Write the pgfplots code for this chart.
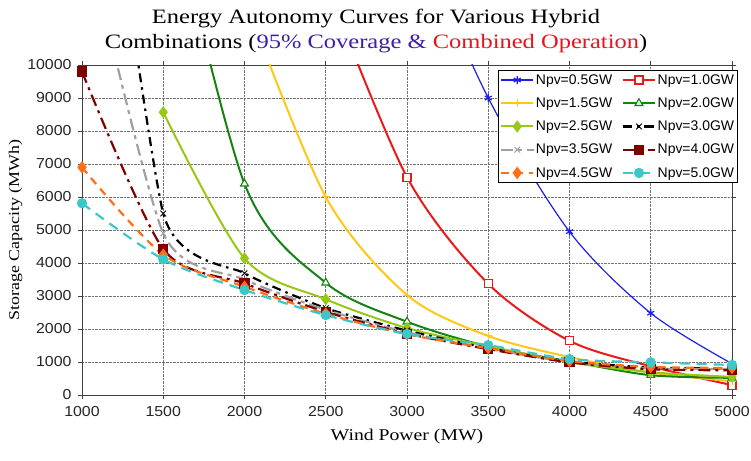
\documentclass[border=0pt]{standalone}
\usepackage{pgfplots}
\pgfplotsset{compat=1.18}
\usepackage{fontspec}
\setmainfont{Liberation Serif}
\newfontfamily\titlefont{Liberation Serif}[FakeStretch=1.2]
\newfontfamily\arial{Liberation Sans}
\newfontfamily\arialw{Liberation Sans}[FakeStretch=1.1]

\definecolor{cBlue}{RGB}{30,30,230}
\definecolor{cRed}{RGB}{235,25,25}
\definecolor{cGold}{RGB}{255,200,20}
\definecolor{cGreen}{RGB}{20,130,20}
\definecolor{cLime}{RGB}{150,200,20}
\definecolor{cGray}{RGB}{160,160,160}
\definecolor{cDarkRed}{RGB}{128,0,0}
\definecolor{cOrange}{RGB}{255,110,20}
\definecolor{cCyan}{RGB}{60,200,200}
\definecolor{tBlue}{RGB}{60,30,170}
\definecolor{tRed}{RGB}{230,20,30}

\begin{document}
\begin{tikzpicture}[x=1bp,y=1bp]
\path[use as bounding box] (0,0) rectangle (751,461);
\node[font=\titlefont\fontsize{20.5}{24.5}\selectfont, align=center] at (376,430)
  {Energy Autonomy Curves for Various Hybrid\\
   Combinations ({\color{tBlue}95\% Coverage \&} {\color{tRed}Combined Operation})};
\begin{axis}[
  at={(82bp,66bp)}, anchor=south west,
  scale only axis, width=650bp, height=330bp,
  xmin=1000, xmax=5000, ymin=0, ymax=10000,
  xtick={1000,1500,...,5000}, ytick={0,1000,...,10000},
  scaled ticks=false,
  /pgf/number format/assume math mode=true,
  /pgf/number format/set thousands separator={},
  ticklabel style={font=\arialw\fontsize{14.5}{15}\selectfont, text=black!85},
  xticklabel style={yshift=-4bp},
  yticklabel style={xshift=-3bp},
  grid=major, grid style={densely dotted, black!55, line width=0.6bp},
  axis line style={black!75, line width=0.9bp},
  tick align=outside, major tick length=4bp,
  tick style={black!75, line width=0.8bp},
  xlabel={\titlefont\fontsize{16.5}{18}\selectfont Wind Power (MW)},
  ylabel={\titlefont\fontsize{15}{18}\selectfont Storage Capacity (MWh)},
  xlabel style={yshift=-6bp},
  ylabel style={yshift=-2bp},
  legend columns=2,
  legend cell align=left,
  legend style={at={(1.0092,0.985)}, anchor=north east,
    font=\arial\fontsize{14}{14.5}\selectfont,
    draw=black, line width=0.7bp, fill=white,
    inner xsep=2bp, inner ysep=2.5bp,
    row sep=8.8bp,
    nodes={inner sep=1.6bp},
    /tikz/every even column/.append style={column sep=8bp}},
  legend image code/.code={\draw[mark repeat=2,mark phase=2]
    plot coordinates {(0bp,0bp)(16bp,0bp)(32bp,0bp)};},
  every axis plot/.append style={smooth},
]
% Npv = 0.5 GW
\addplot[cBlue, line width=1.2bp, mark=asterisk, mark size=4bp, mark options={solid, draw=cBlue}]
  coordinates {(3000,14500)(3500,9000)(4000,4950)(4500,2480)(5000,950)};
\addlegendentry{Npv=0.5GW}
% Npv = 1.0 GW
\addplot[cRed, line width=2bp, mark=square*, mark size=4bp, mark options={solid, draw=cRed, fill=white, line width=1.1bp}]
  coordinates {(2500,12500)(3000,6600)(3500,3370)(4000,1640)(4500,870)(5000,300)};
\addlegendentry{Npv=1.0GW}
% Npv = 1.5 GW
\addplot[cGold, line width=2bp, mark=+, mark size=4bp, mark options={solid, draw=cGold, line width=1bp}]
  coordinates {(2000,12000)(2500,6000)(3000,3030)(3500,1790)(4000,1150)(4500,680)(5000,420)};
\addlegendentry{Npv=1.5GW}
% Npv = 2.0 GW
\addplot[cGreen, line width=2bp, mark=triangle*, mark size=4.5bp, mark options={solid, draw=cGreen, fill=white, line width=1.1bp}]
  coordinates {(1500,16000)(2000,6400)(2500,3400)(3000,2220)(3500,1470)(4000,1020)(4500,600)(5000,520)};
\addlegendentry{Npv=2.0GW}
% Npv = 2.5 GW
\addplot[cLime, line width=2bp, mark=diamond*, mark size=4.5bp, mark options={solid, draw=cLime, fill=cLime}]
  coordinates {(1500,8570)(2000,4140)(2500,2900)(3000,2030)(3500,1480)(4000,1000)(4500,690)(5000,550)};
\addlegendentry{Npv=2.5GW}
% Npv = 3.0 GW
\addplot[black, line width=2.2bp, dash pattern=on 9bp off 5bp on 2.5bp off 5bp,
  mark=x, mark size=4bp, mark options={solid, line width=1bp}, tension=0.3]
  coordinates {(1000,22000)(1500,5500)(2000,3690)(2500,2630)(3000,1950)(3500,1420)(4000,1010)(4500,830)(5000,800)};
\addlegendentry{Npv=3.0GW}
% Npv = 3.5 GW
\addplot[cGray, line width=2.2bp, dash pattern=on 12bp off 5bp on 4bp off 5bp,
  mark=x, mark size=4bp, mark options={solid, draw=cGray, line width=1bp}, tension=0.4]
  coordinates {(1000,14500)(1500,4900)(2000,3500)(2500,2580)(3000,1900)(3500,1400)(4000,1000)(4500,800)(5000,790)};
\addlegendentry{Npv=3.5GW}
% Npv = 4.0 GW
\addplot[cDarkRed, line width=2.2bp, dash pattern=on 12bp off 5bp on 3bp off 5bp,
  mark=square*, mark size=4bp, mark options={solid, draw=cDarkRed, fill=cDarkRed}, tension=0.45]
  coordinates {(1000,9800)(1500,4420)(2000,3380)(2500,2520)(3000,1860)(3500,1390)(4000,990)(4500,780)(5000,750)};
\addlegendentry{Npv=4.0GW}
% Npv = 4.5 GW
\addplot[cOrange, line width=2.2bp, dash pattern=on 8bp off 6bp,
  mark=diamond*, mark size=4.5bp, mark options={solid, draw=cOrange, fill=cOrange}]
  coordinates {(1000,6900)(1500,4250)(2000,3280)(2500,2460)(3000,1840)(3500,1420)(4000,1030)(4500,850)(5000,820)};
\addlegendentry{Npv=4.5GW}
% Npv = 5.0 GW
\addplot[cCyan, line width=2.2bp, dash pattern=on 10bp off 7bp,
  mark=*, mark size=4bp, mark options={solid, draw=cCyan, fill=cCyan}]
  coordinates {(1000,5810)(1500,4110)(2000,3180)(2500,2420)(3000,1850)(3500,1510)(4000,1090)(4500,990)(5000,910)};
\addlegendentry{Npv=5.0GW}
\end{axis}
\end{tikzpicture}
\end{document}
